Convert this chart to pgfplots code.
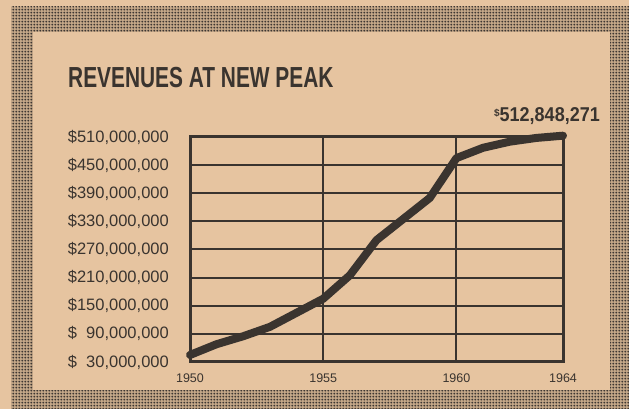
\documentclass[border=0pt]{standalone}
\usepackage{pgfplots}
\pgfplotsset{compat=1.18}
\usepackage{graphicx}
\usepackage{fontspec}
\setmainfont{Liberation Sans}
\usetikzlibrary{patterns}
\definecolor{paper}{RGB}{230,196,160}
\definecolor{ink}{RGB}{58,52,47}
\definecolor{dots}{RGB}{62,55,50}
\pgfdeclarepatternformonly{halftone}{\pgfqpoint{0pt}{0pt}}{\pgfqpoint{3.2pt}{3.2pt}}{\pgfqpoint{3.2pt}{3.2pt}}{%
  \pgfpathcircle{\pgfqpoint{1.6pt}{1.6pt}}{1.25pt}\pgfusepath{fill}}
\begin{document}
\begin{tikzpicture}
\useasboundingbox (0pt,0pt) rectangle (629pt,409pt);
\fill[paper] (0pt,0pt) rectangle (629pt,409pt);
\fill[paper!85!black] (11pt,-2pt) rectangle (631pt,402pt);
\fill[pattern=halftone, pattern color=dots] (11pt,-2pt) rectangle (631pt,402pt);
\fill[paper] (33pt,19pt) rectangle (610pt,377pt);
\node[anchor=base west, inner sep=0pt, text=ink] at (68pt,321pt)
  {\scalebox{0.72}[1]{\fontsize{29}{29}\selectfont\bfseries REVENUES AT NEW PEAK}};
\node[anchor=base east, inner sep=0pt, text=ink] at (600pt,287pt)
  {\raisebox{5pt}{\fontsize{10}{10}\selectfont\bfseries\$}\scalebox{0.9}[1]{\fontsize{20}{20}\selectfont\bfseries 512,848,271}};
\begin{axis}[
  at={(190pt,47pt)}, anchor=south west,
  scale only axis, width=373pt, height=225pt,
  xmin=1950, xmax=1964, ymin=30, ymax=510,
  xtick={1950,1955,1960,1964},
  xticklabels={1950,1955,1960,1964},
  ytick={30,90,150,210,270,330,390,450,510},
  yticklabels={{\$\phantom{1}30,000,000},{\$\phantom{1}90,000,000},{\$150,000,000},{\$210,000,000},{\$270,000,000},{\$330,000,000},{\$390,000,000},{\$450,000,000},{\$510,000,000}},
  major tick length=0pt,
  axis line style={ink, line width=3pt},
  ymajorgrids, xmajorgrids,
  grid style={ink, line width=2pt},
  yticklabel style={anchor=east, inner sep=0pt, xshift=-21pt, text=ink, font=\fontsize{16.5}{16.5}\selectfont},
  xticklabel style={anchor=north, inner sep=0pt, yshift=-12pt, text=ink, font=\fontsize{12.5}{12.5}\selectfont},
  clip=false,
]
\addplot[ink, line width=8pt, line join=round, line cap=round] coordinates {
(1950,45) (1951,68) (1952,85) (1953,105) (1954,135) (1955,165) (1956,215)
(1957,290) (1958,335) (1959,380) (1960,465) (1961,487) (1962,500) (1963,508) (1964,512.8)
};
\end{axis}
\end{tikzpicture}
\end{document}
